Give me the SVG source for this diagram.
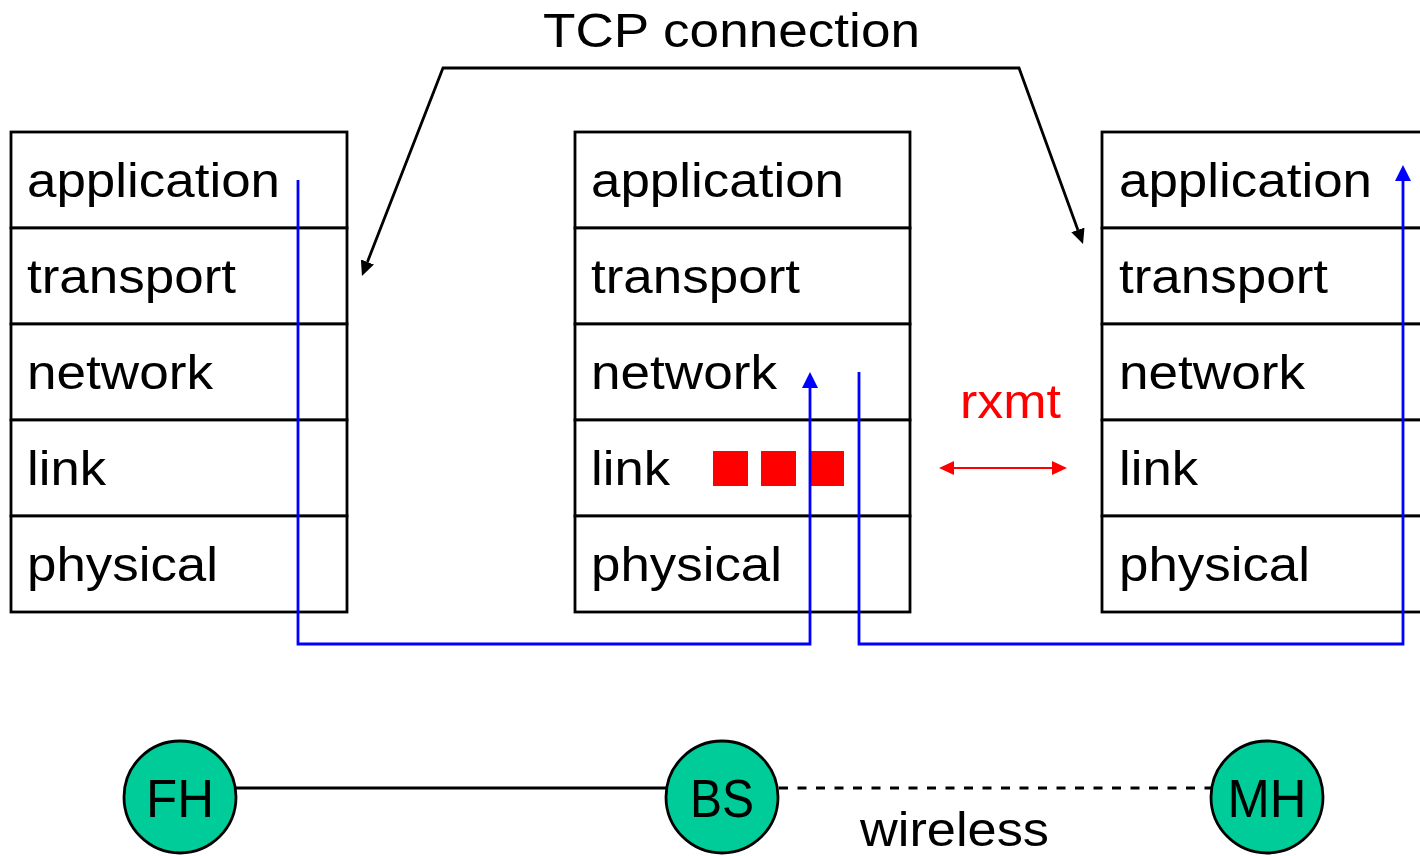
<svg xmlns="http://www.w3.org/2000/svg" width="1420" height="856" viewBox="0 0 1420 856">
  <style>
    text { font-family: "Liberation Sans", Arial, sans-serif; fill: #000; }
    .lbl { font-size: 49px; }
    .big { font-size: 49px; }
    .host { font-size: 54px; text-anchor: middle; }
    .layer { fill: #fff; stroke: #000; stroke-width: 2.8; }
    .host-c { fill: #00CC99; stroke: #000; stroke-width: 2.8; }
    .pkt { fill: #FF0000; }
    .path-blue { fill: none; stroke: #0000FF; stroke-width: 2.8; }
    .path-black { fill: none; stroke: #000; stroke-width: 2.8; }
    .path-red { fill: none; stroke: #FF0000; stroke-width: 2; }
    .wire { fill: none; stroke: #000; stroke-width: 3; }
    .wless { fill: none; stroke: #000; stroke-width: 2.8; stroke-dasharray: 9 9.5; }
  </style>
  <defs>
    <marker id="arrow-blue" markerUnits="userSpaceOnUse" markerWidth="16" markerHeight="16" refX="0" refY="8" orient="auto">
      <path d="M0,0 L16,8 L0,16 Z" fill="#0000FF"/>
    </marker>
    <marker id="arrow-black" markerUnits="userSpaceOnUse" markerWidth="15" markerHeight="14" refX="0" refY="7" orient="auto-start-reverse">
      <path d="M0,0 L15,7 L0,14 Z" fill="#000"/>
    </marker>
    <marker id="arrow-red" markerUnits="userSpaceOnUse" markerWidth="15" markerHeight="14" refX="0" refY="7" orient="auto-start-reverse">
      <path d="M0,0 L15,7 L0,14 Z" fill="#FF0000"/>
    </marker>
  </defs>

  <rect width="1420" height="856" fill="#fff"/>

  <!-- title of the end-to-end connection -->
  <text class="big" x="543" y="47" textLength="377" lengthAdjust="spacingAndGlyphs">TCP connection</text>

  <!-- protocol stack of the fixed host -->
  <g id="stack-fh">
    <rect class="layer" x="11" y="132" width="336" height="96"/>
    <rect class="layer" x="11" y="228" width="336" height="96"/>
    <rect class="layer" x="11" y="324" width="336" height="96"/>
    <rect class="layer" x="11" y="420" width="336" height="96"/>
    <rect class="layer" x="11" y="516" width="336" height="96"/>
    <text class="lbl" x="27" y="197" textLength="253" lengthAdjust="spacingAndGlyphs">application</text>
    <text class="lbl" x="27" y="293" textLength="209" lengthAdjust="spacingAndGlyphs">transport</text>
    <text class="lbl" x="27" y="389" textLength="186" lengthAdjust="spacingAndGlyphs">network</text>
    <text class="lbl" x="27" y="485" textLength="79" lengthAdjust="spacingAndGlyphs">link</text>
    <text class="lbl" x="27" y="581" textLength="191" lengthAdjust="spacingAndGlyphs">physical</text>
  </g>

  <!-- protocol stack of the base station -->
  <g id="stack-bs">
    <rect class="layer" x="575" y="132" width="335" height="96"/>
    <rect class="layer" x="575" y="228" width="335" height="96"/>
    <rect class="layer" x="575" y="324" width="335" height="96"/>
    <rect class="layer" x="575" y="420" width="335" height="96"/>
    <rect class="layer" x="575" y="516" width="335" height="96"/>
    <text class="lbl" x="591" y="197" textLength="253" lengthAdjust="spacingAndGlyphs">application</text>
    <text class="lbl" x="591" y="293" textLength="209" lengthAdjust="spacingAndGlyphs">transport</text>
    <text class="lbl" x="591" y="389" textLength="186" lengthAdjust="spacingAndGlyphs">network</text>
    <text class="lbl" x="591" y="485" textLength="79" lengthAdjust="spacingAndGlyphs">link</text>
    <text class="lbl" x="591" y="581" textLength="191" lengthAdjust="spacingAndGlyphs">physical</text>
  </g>

  <!-- link-layer buffer of the base station -->
  <g id="link-buffer">
    <rect class="pkt" x="713" y="451" width="35" height="35"/>
    <rect class="pkt" x="761" y="451" width="35" height="35"/>
    <rect class="pkt" x="809" y="451" width="35" height="35"/>
  </g>

  <!-- protocol stack of the mobile host -->
  <g id="stack-mh">
    <rect class="layer" x="1102" y="132" width="336" height="96"/>
    <rect class="layer" x="1102" y="228" width="336" height="96"/>
    <rect class="layer" x="1102" y="324" width="336" height="96"/>
    <rect class="layer" x="1102" y="420" width="336" height="96"/>
    <rect class="layer" x="1102" y="516" width="336" height="96"/>
    <text class="lbl" x="1119" y="197" textLength="253" lengthAdjust="spacingAndGlyphs">application</text>
    <text class="lbl" x="1119" y="293" textLength="209" lengthAdjust="spacingAndGlyphs">transport</text>
    <text class="lbl" x="1119" y="389" textLength="186" lengthAdjust="spacingAndGlyphs">network</text>
    <text class="lbl" x="1119" y="485" textLength="79" lengthAdjust="spacingAndGlyphs">link</text>
    <text class="lbl" x="1119" y="581" textLength="191" lengthAdjust="spacingAndGlyphs">physical</text>
  </g>

  <!-- link-layer retransmission label -->
  <text class="big" x="960" y="418" style="fill:#FF0000" textLength="101" lengthAdjust="spacingAndGlyphs">rxmt</text>

  <g id="connectors">
    <!-- TCP connection spans the two transport layers -->
    <path class="path-black" d="M367.4,262 L443,68 L1019,68 L1077.9,229.9" marker-start="url(#arrow-black)" marker-end="url(#arrow-black)"/>
    <!-- data path: FH application down to BS network -->
    <path class="path-blue" d="M298,180 V644 H810 V388" marker-end="url(#arrow-blue)"/>
    <!-- data path: BS network up to MH application -->
    <path class="path-blue" d="M859,372 V644 H1403 V181" marker-end="url(#arrow-blue)"/>
    <!-- link-layer retransmission between BS and MH -->
    <path class="path-red" d="M954,468 H1052" marker-start="url(#arrow-red)" marker-end="url(#arrow-red)"/>
    <!-- wired link FH - BS -->
    <path class="wire" d="M236,788 H666"/>
    <!-- wireless link BS - MH -->
    <path class="wless" d="M779,788 H1211"/>
  </g>

  <text class="big" x="860" y="846" textLength="189" lengthAdjust="spacingAndGlyphs">wireless</text>

  <g id="node-fh">
    <circle class="host-c" cx="180" cy="797" r="56"/>
    <text class="host" x="180" y="817" textLength="68" lengthAdjust="spacingAndGlyphs">FH</text>
  </g>
  <g id="node-bs">
    <circle class="host-c" cx="722" cy="797" r="56"/>
    <text class="host" x="722" y="817" textLength="64" lengthAdjust="spacingAndGlyphs">BS</text>
  </g>
  <g id="node-mh">
    <circle class="host-c" cx="1267" cy="797" r="56"/>
    <text class="host" x="1267" y="817" textLength="79" lengthAdjust="spacingAndGlyphs">MH</text>
  </g>
</svg>
